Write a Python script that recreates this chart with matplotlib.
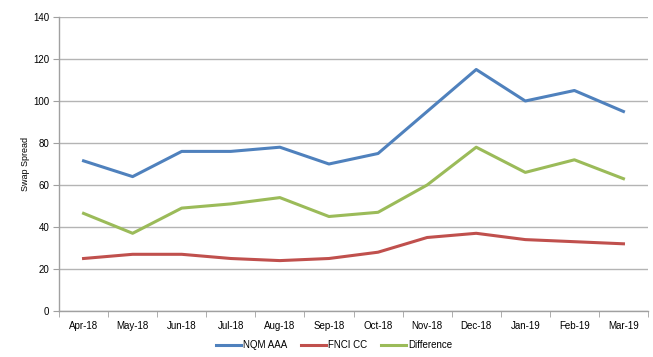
import numpy as np
import matplotlib
matplotlib.use("Agg")
import matplotlib.pyplot as plt

months = ["Apr-18", "May-18", "Jun-18", "Jul-18", "Aug-18", "Sep-18",
          "Oct-18", "Nov-18", "Dec-18", "Jan-19", "Feb-19", "Mar-19"]
nqm_aaa = [71.5, 64, 76, 76, 78, 70, 75, 95, 115, 100, 105, 95]
fnci_cc = [25, 27, 27, 25, 24, 25, 28, 35, 37, 34, 33, 32]
difference = [46.5, 37, 49, 51, 54, 45, 47, 60, 78, 66, 72, 63]

plt.rcParams['font.family'] = ['Liberation Sans', 'DejaVu Sans']

fig = plt.figure(figsize=(6.53, 3.57), dpi=100)
ax = fig.add_axes([59 / 653, 1 - 311 / 357, 589 / 653, 294 / 357])

x = np.arange(len(months))
ax.plot(x, nqm_aaa, color="#4F81BD", lw=2.2, label="NQM AAA")
ax.plot(x, fnci_cc, color="#C0504D", lw=2.2, label="FNCI CC")
ax.plot(x, difference, color="#9BBB59", lw=2.2, label="Difference")

ax.set_xlim(-0.5, len(months) - 0.5)
ax.set_ylim(0, 140)
ax.set_yticks(range(0, 141, 20))
ax.set_xticks(x)
ax.set_xticklabels(months)
ax.set_xticks(np.arange(-0.5, len(months), 1), minor=True)
ax.tick_params(axis="x", which="major", length=0, pad=7, labelsize=7)
ax.tick_params(axis="x", which="minor", length=4, color="#A0A0A0", direction="out")
ax.tick_params(axis="y", length=4, color="#A0A0A0", labelsize=7, pad=3)

ax.grid(axis="y", color="#B4B4B4", lw=1)
ax.set_axisbelow(True)
for s in ["top", "right"]:
    ax.spines[s].set_visible(False)
for s in ["left", "bottom"]:
    ax.spines[s].set_color("#A0A0A0")
    ax.spines[s].set_linewidth(1)

ax.set_ylabel("Swap Spread", fontsize=6.5, labelpad=2)

fig.legend(loc="center", bbox_to_anchor=(334 / 653, 1 - 345 / 357), ncol=3,
           frameon=False, fontsize=7, handlelength=2.6, handletextpad=0.2,
           columnspacing=1.4)

fig.savefig("out.png", dpi=100)
